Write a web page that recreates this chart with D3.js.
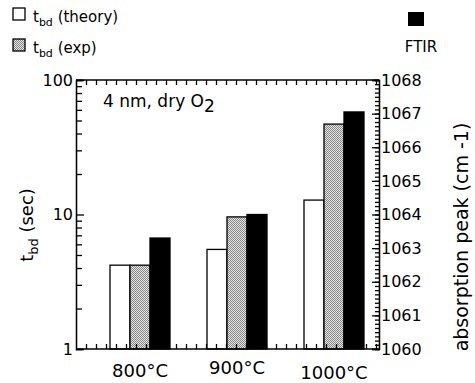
<!DOCTYPE html>
<html>
<head>
<meta charset="utf-8">
<script src="https://cdn.jsdelivr.net/npm/d3@7"></script>
<style>
  body { margin: 0; background: #fff; }
  svg text { font-family: "DejaVu Sans", "Liberation Sans", sans-serif; fill: #000; }
  .axis path, .axis line { stroke: #000; stroke-width: 1.3px; }
</style>
</head>
<body>
<div id="chartDiv"></div>
<script>
// data
var temps = ["800°C", "900°C", "1000°C"];
var series = ["theory", "exp", "ftir"];
var tbdTheory = [4.2, 5.5, 12.8];
var tbdExp = [4.2, 9.6, 47];
var ftirPeak = [1063.3, 1064.0, 1067.05];
var leftTicks = [1, 10, 100];
var rightTicks = [1060, 1061, 1062, 1063, 1064, 1065, 1066, 1067, 1068];

var W = 475, H = 383;
var plotL = 76, plotR = 379, plotT = 80, plotB = 349;

var svg = d3.select("#chartDiv").append("svg")
  .attr("width", W)
  .attr("height", H);

// dithered grey fill for the exp bars
var defs = svg.append("defs");
var pat = defs.append("pattern")
  .attr("id", "dither")
  .attr("width", 2).attr("height", 2)
  .attr("patternUnits", "userSpaceOnUse");
pat.append("rect").attr("width", 2).attr("height", 2).attr("fill", "#e6e6e6");
pat.append("rect").attr("width", 1).attr("height", 1).attr("fill", "#858585");
pat.append("rect").attr("x", 1).attr("y", 1).attr("width", 1).attr("height", 1).attr("fill", "#858585");

var yLog = d3.scaleLog().domain([1, 100]).range([plotB, plotT]);
var yFtir = d3.scaleLinear().domain([1060, 1068]).range([plotB, plotT]);
var x0 = d3.scalePoint().domain(temps).range([140, 334]);
var x1 = d3.scaleBand().domain(series).range([-30, 30]);

// bars
var rows = temps.map(function (t, i) {
  return [
    {t: t, s: "theory", y: yLog(tbdTheory[i])},
    {t: t, s: "exp", y: yLog(tbdExp[i])},
    {t: t, s: "ftir", y: yFtir(ftirPeak[i])}
  ];
});
var fills = {theory: "#fff", exp: "url(#dither)", ftir: "#000"};

svg.append("g").selectAll("rect")
  .data(d3.merge(rows))
  .join("rect")
  .attr("x", function (d) { return x0(d.t) + x1(d.s); })
  .attr("width", x1.bandwidth())
  .attr("y", function (d) { return d.y; })
  .attr("height", function (d) { return plotB - d.y; })
  .attr("fill", function (d) { return fills[d.s]; })
  .attr("stroke", "#000")
  .attr("stroke-width", 1.3);

// minor ticks along top and bottom
var xMinor = d3.scaleLinear().domain([0, 30.3]).range([plotL, plotR]);
var minorVals = d3.range(1, 31);
svg.append("g").attr("class", "axis")
  .attr("transform", "translate(0," + plotB + ")")
  .call(d3.axisTop(xMinor).tickValues(minorVals).tickSize(5).tickFormat(""))
  .select(".domain").attr("d", "M" + plotL + ",0H" + plotR);
svg.append("g").attr("class", "axis")
  .attr("transform", "translate(0," + plotT + ")")
  .call(d3.axisBottom(xMinor).tickValues(minorVals).tickSize(5).tickFormat(""))
  .select(".domain").attr("d", "M" + plotL + ",0H" + plotR);

// left log axis
var logMinor = [];
[1, 10].forEach(function (dec) {
  for (var k = 2; k <= 9; k++) logMinor.push(dec * k);
});
svg.append("g").attr("class", "axis")
  .attr("transform", "translate(" + plotL + ",0)")
  .call(d3.axisLeft(yLog).tickValues(logMinor).tickSize(-6).tickFormat(""));
svg.append("g").attr("class", "axis")
  .attr("transform", "translate(" + plotL + ",0)")
  .call(d3.axisLeft(yLog).tickValues(leftTicks).tickSize(-8).tickPadding(3).tickFormat(d3.format("d")))
  .call(function (g) { g.selectAll("text").style("font-size", "16px"); });

// right FTIR axis
svg.append("g").attr("class", "axis")
  .attr("transform", "translate(" + plotR + ",0)")
  .call(d3.axisRight(yFtir).tickValues(d3.range(1060, 1068.01, 0.125)).tickSize(-4).tickFormat(""));
svg.append("g").attr("class", "axis")
  .attr("transform", "translate(" + plotR + ",0)")
  .call(d3.axisRight(yFtir).tickValues(rightTicks).tickSize(-7).tickPadding(2).tickFormat(d3.format("d")))
  .call(function (g) { g.selectAll("text").style("font-size", "16px"); });

// category labels (staggered like the original)
var labelY = [377, 374, 379];
svg.append("g").selectAll("text")
  .data(temps)
  .join("text")
  .attr("x", function (d) { return x0(d); })
  .attr("y", function (d, i) { return labelY[i]; })
  .attr("text-anchor", "middle")
  .style("font-size", "18px")
  .text(function (d) { return d; });

// axis titles
var lt = svg.append("text")
  .attr("transform", "translate(33,225) rotate(-90)")
  .attr("text-anchor", "middle")
  .style("font-size", "18px");
lt.append("tspan").text("t");
lt.append("tspan").attr("dy", 5).style("font-size", "13px").text("bd");
lt.append("tspan").attr("dy", -5).text(" (sec)");

svg.append("text")
  .attr("transform", "translate(468,237) rotate(-90)")
  .attr("text-anchor", "middle")
  .style("font-size", "19px")
  .text("absorption peak (cm -1)");

// inset note
var note = svg.append("text")
  .attr("x", 103).attr("y", 107)
  .style("font-size", "17px");
note.append("tspan").text("4 nm, dry O");
note.append("tspan").attr("dy", 5).text("2");

// legend
var legendItems = [
  {label: "(theory)", fill: "#fff", y: 8},
  {label: "(exp)", fill: "url(#dither)", y: 39}
];
legendItems.forEach(function (d) {
  svg.append("rect")
    .attr("x", 13).attr("y", d.y)
    .attr("width", 12).attr("height", 12)
    .attr("fill", d.fill)
    .attr("stroke", "#000").attr("stroke-width", 1.3);
  var t = svg.append("text").attr("x", 33).attr("y", d.y + 14).style("font-size", "15px");
  t.append("tspan").text("t");
  t.append("tspan").attr("dy", 4).style("font-size", "11px").text("bd");
  t.append("tspan").attr("dy", -4).text(" " + d.label);
});
svg.append("rect")
  .attr("x", 408).attr("y", 12)
  .attr("width", 16).attr("height", 14)
  .attr("fill", "#000");
svg.append("text")
  .attr("x", 421).attr("y", 52)
  .attr("text-anchor", "middle")
  .style("font-size", "15px")
  .text("FTIR");
</script>
</body>
</html>
